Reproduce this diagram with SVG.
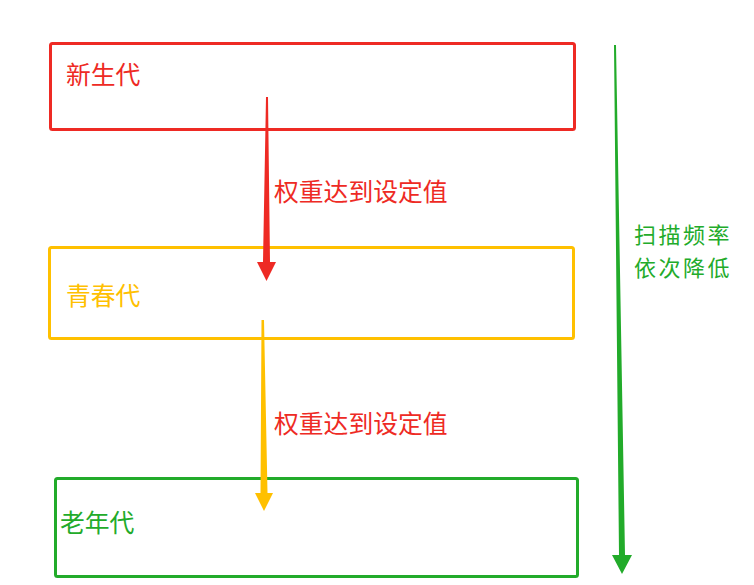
<svg xmlns="http://www.w3.org/2000/svg" width="754" height="585" viewBox="0 0 754 585">
<style>
.box{fill:none;stroke-width:3;}
.t{font-family:"Noto Sans CJK SC","Microsoft YaHei",sans-serif;font-size:24.8px;}
.side{font-size:22px;letter-spacing:2.5px;}
.red{fill:#ee2a24;}
.yel{fill:#ffc000;}
.grn{fill:#22ab2a;}
</style>
<rect width="754" height="585" fill="#ffffff"/>
<g id="young">
<rect class="box" x="50.5" y="43.5" width="524" height="86" rx="2" stroke="#ee2a24"/>
<text class="t red" x="66" y="84">新生代</text>
</g>
<g id="survivor">
<rect class="box" x="49.5" y="247.5" width="524" height="91" rx="2" stroke="#ffc000"/>
<text class="t yel" x="66" y="305">青春代</text>
</g>
<g id="old">
<rect class="box" x="55.5" y="478.5" width="522" height="98" rx="2" stroke="#22ab2a"/>
<text class="t grn" x="60" y="532">老年代</text>
</g>
<g id="connectors">
<polygon class="red" points="266,97 268,97 270,262 276,262 266.5,281 257,262 263,262"/>
<polygon class="yel" points="261.5,320 264,320 267.5,493 273,493 264,511 255,493 260.5,493"/>
<polygon class="grn" points="614,45 616,45 625,555 632,555 622,574 612,555 619,555"/>
</g>
<g id="labels">
<text class="t side grn" x="634" y="243">扫描频率</text>
<text class="t side grn" x="634" y="275.5">依次降低</text>
</g>
<g id="edge-labels">
<text class="t red" x="274" y="201">权重达到设定值</text>
<text class="t red" x="274" y="433">权重达到设定值</text>
</g>
</svg>
